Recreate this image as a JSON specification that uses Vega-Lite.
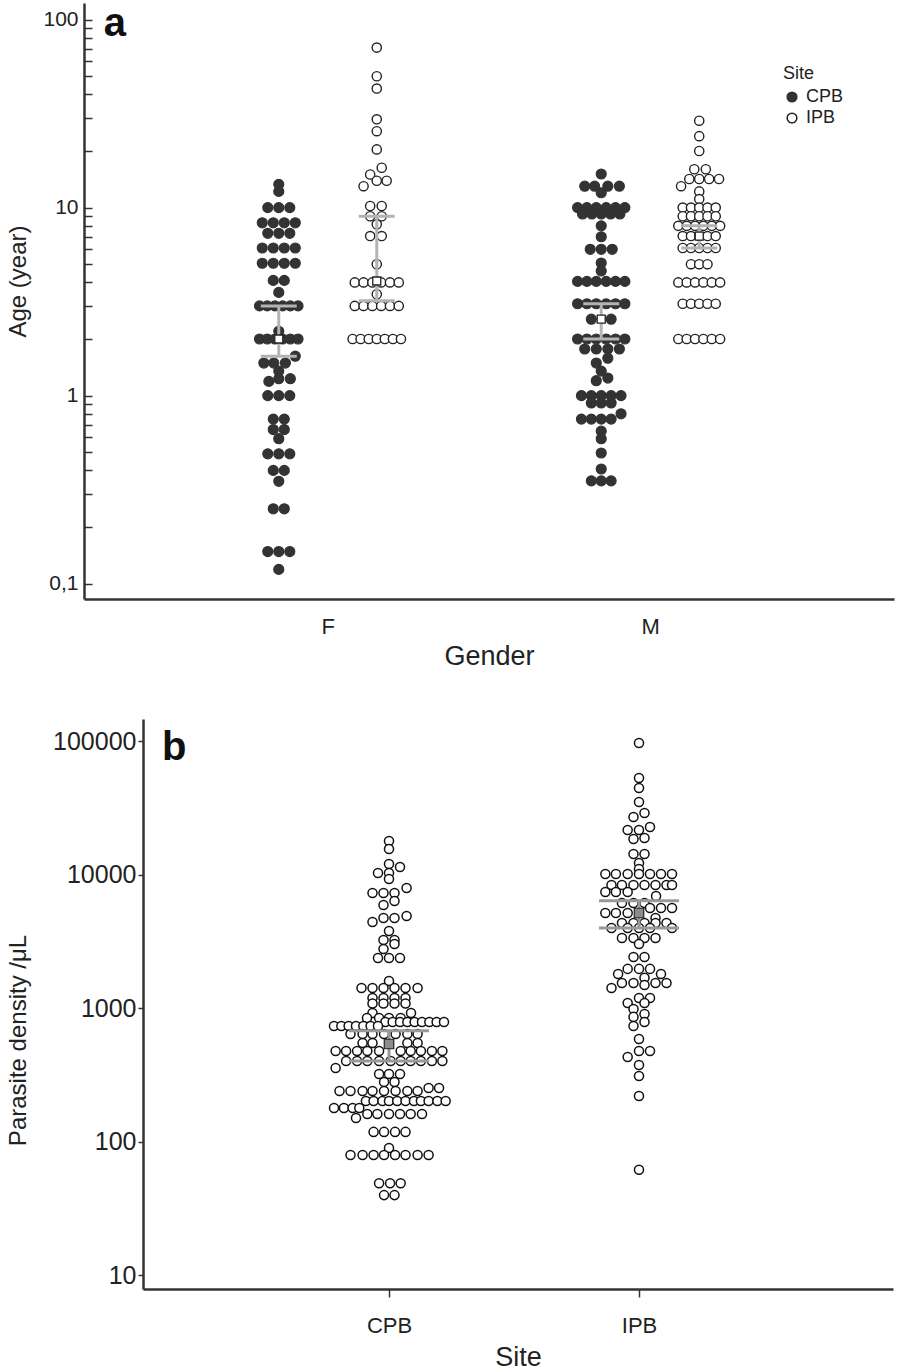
{
"$schema": "https://vega.github.io/schema/vega-lite/v6.json",
"padding": {"left": 6, "top": 3, "right": 3, "bottom": 0},
"background": "white",
"spacing": 50,
"config": {
 "view": {"stroke": null},
 "font": "Liberation Sans",
 "axis": {"labelFont": "Liberation Sans", "titleFont": "Liberation Sans", "titleFontWeight": "normal", "labelColor": "#222", "titleColor": "#222", "domainColor": "#333", "domainWidth": 2.5, "tickColor": "#333", "tickWidth": 1.5, "grid": false},
 "legend": {"labelFont": "Liberation Sans", "titleFont": "Liberation Sans"},
 "text": {"font": "Liberation Sans"}
},
"datasets": {
 "panelTags": [{"tag": "a"}, {"tag": "b"}],
 "ageDots": [
  {"gender":"F","site":"CPB","age":13.3,"slot":0},{"gender":"F","site":"CPB","age":12.2,"slot":0},
  {"gender":"F","site":"CPB","age":10,"slot":-1},{"gender":"F","site":"CPB","age":10,"slot":0},{"gender":"F","site":"CPB","age":10,"slot":1},
  {"gender":"F","site":"CPB","age":8.3,"slot":-1.5},{"gender":"F","site":"CPB","age":8.3,"slot":-0.5},{"gender":"F","site":"CPB","age":8.3,"slot":0.5},{"gender":"F","site":"CPB","age":8.3,"slot":1.5},
  {"gender":"F","site":"CPB","age":7.3,"slot":-1},{"gender":"F","site":"CPB","age":7.3,"slot":0},{"gender":"F","site":"CPB","age":7.3,"slot":1},
  {"gender":"F","site":"CPB","age":6.1,"slot":-1.5},{"gender":"F","site":"CPB","age":6.1,"slot":-0.5},{"gender":"F","site":"CPB","age":6.1,"slot":0.5},{"gender":"F","site":"CPB","age":6.1,"slot":1.5},
  {"gender":"F","site":"CPB","age":5.06,"slot":-1.5},{"gender":"F","site":"CPB","age":5.06,"slot":-0.5},{"gender":"F","site":"CPB","age":5.06,"slot":0.5},{"gender":"F","site":"CPB","age":5.06,"slot":1.5},
  {"gender":"F","site":"CPB","age":4.1,"slot":-0.5},{"gender":"F","site":"CPB","age":4.1,"slot":0.5},
  {"gender":"F","site":"CPB","age":3.54,"slot":0},
  {"gender":"F","site":"CPB","age":3,"slot":-1.75},{"gender":"F","site":"CPB","age":3,"slot":-1.05},{"gender":"F","site":"CPB","age":3,"slot":-0.35},{"gender":"F","site":"CPB","age":3,"slot":0.35},{"gender":"F","site":"CPB","age":3,"slot":1.05},{"gender":"F","site":"CPB","age":3,"slot":1.75},
  {"gender":"F","site":"CPB","age":2.2,"slot":0},
  {"gender":"F","site":"CPB","age":2,"slot":-1.75},{"gender":"F","site":"CPB","age":2,"slot":-1.05},{"gender":"F","site":"CPB","age":2,"slot":-0.35},{"gender":"F","site":"CPB","age":2,"slot":0.35},{"gender":"F","site":"CPB","age":2,"slot":1.05},{"gender":"F","site":"CPB","age":2,"slot":1.75},
  {"gender":"F","site":"CPB","age":1.62,"slot":1.5},
  {"gender":"F","site":"CPB","age":1.49,"slot":-1.36},{"gender":"F","site":"CPB","age":1.49,"slot":-0.45},{"gender":"F","site":"CPB","age":1.49,"slot":0.6},
  {"gender":"F","site":"CPB","age":1.35,"slot":0},{"gender":"F","site":"CPB","age":1.23,"slot":0},{"gender":"F","site":"CPB","age":1.23,"slot":1.05},{"gender":"F","site":"CPB","age":1.19,"slot":-0.9},
  {"gender":"F","site":"CPB","age":1,"slot":-1},{"gender":"F","site":"CPB","age":1,"slot":0},{"gender":"F","site":"CPB","age":1,"slot":1},
  {"gender":"F","site":"CPB","age":0.75,"slot":-0.5},{"gender":"F","site":"CPB","age":0.75,"slot":0.5},
  {"gender":"F","site":"CPB","age":0.66,"slot":-0.5},{"gender":"F","site":"CPB","age":0.66,"slot":0.5},{"gender":"F","site":"CPB","age":0.59,"slot":0},
  {"gender":"F","site":"CPB","age":0.49,"slot":-1},{"gender":"F","site":"CPB","age":0.49,"slot":0},{"gender":"F","site":"CPB","age":0.49,"slot":1},
  {"gender":"F","site":"CPB","age":0.4,"slot":-0.5},{"gender":"F","site":"CPB","age":0.4,"slot":0.5},{"gender":"F","site":"CPB","age":0.35,"slot":0},
  {"gender":"F","site":"CPB","age":0.25,"slot":-0.5},{"gender":"F","site":"CPB","age":0.25,"slot":0.5},
  {"gender":"F","site":"CPB","age":0.148,"slot":-1},{"gender":"F","site":"CPB","age":0.148,"slot":0},{"gender":"F","site":"CPB","age":0.148,"slot":1},
  {"gender":"F","site":"CPB","age":0.119,"slot":0},

  {"gender":"F","site":"IPB","age":71,"slot":0},{"gender":"F","site":"IPB","age":50,"slot":0},{"gender":"F","site":"IPB","age":43,"slot":0},
  {"gender":"F","site":"IPB","age":29.5,"slot":0},{"gender":"F","site":"IPB","age":25.5,"slot":0},{"gender":"F","site":"IPB","age":20.4,"slot":0},
  {"gender":"F","site":"IPB","age":16.3,"slot":0.45},{"gender":"F","site":"IPB","age":15,"slot":-0.6},{"gender":"F","site":"IPB","age":13.9,"slot":0},{"gender":"F","site":"IPB","age":13.9,"slot":0.9},{"gender":"F","site":"IPB","age":13,"slot":-1.2},
  {"gender":"F","site":"IPB","age":10.2,"slot":-0.6},{"gender":"F","site":"IPB","age":10.2,"slot":0.45},{"gender":"F","site":"IPB","age":9,"slot":-0.6},{"gender":"F","site":"IPB","age":9,"slot":0.45},
  {"gender":"F","site":"IPB","age":8.15,"slot":0},{"gender":"F","site":"IPB","age":7.06,"slot":-0.6},{"gender":"F","site":"IPB","age":7.06,"slot":0.45},
  {"gender":"F","site":"IPB","age":5,"slot":0},
  {"gender":"F","site":"IPB","age":4,"slot":-2},{"gender":"F","site":"IPB","age":4,"slot":-1.2},{"gender":"F","site":"IPB","age":4,"slot":-0.4},{"gender":"F","site":"IPB","age":4,"slot":0.4},{"gender":"F","site":"IPB","age":4,"slot":1.2},{"gender":"F","site":"IPB","age":4,"slot":2},
  {"gender":"F","site":"IPB","age":3.46,"slot":0},
  {"gender":"F","site":"IPB","age":3,"slot":-2},{"gender":"F","site":"IPB","age":3,"slot":-1.2},{"gender":"F","site":"IPB","age":3,"slot":-0.4},{"gender":"F","site":"IPB","age":3,"slot":0.4},{"gender":"F","site":"IPB","age":3,"slot":1.2},{"gender":"F","site":"IPB","age":3,"slot":2},
  {"gender":"F","site":"IPB","age":2,"slot":-2.2},{"gender":"F","site":"IPB","age":2,"slot":-1.47},{"gender":"F","site":"IPB","age":2,"slot":-0.73},{"gender":"F","site":"IPB","age":2,"slot":0},{"gender":"F","site":"IPB","age":2,"slot":0.73},{"gender":"F","site":"IPB","age":2,"slot":1.47},{"gender":"F","site":"IPB","age":2,"slot":2.2},

  {"gender":"M","site":"CPB","age":15.1,"slot":0},
  {"gender":"M","site":"CPB","age":13,"slot":-1.5},{"gender":"M","site":"CPB","age":13,"slot":-0.6},{"gender":"M","site":"CPB","age":13,"slot":0.6},{"gender":"M","site":"CPB","age":13,"slot":1.65},{"gender":"M","site":"CPB","age":12,"slot":0},
  {"gender":"M","site":"CPB","age":10,"slot":-2.15},{"gender":"M","site":"CPB","age":10,"slot":-1.3},{"gender":"M","site":"CPB","age":10,"slot":-0.45},{"gender":"M","site":"CPB","age":10,"slot":0.45},{"gender":"M","site":"CPB","age":10,"slot":1.3},{"gender":"M","site":"CPB","age":10,"slot":2.15},
  {"gender":"M","site":"CPB","age":9.25,"slot":-1.7},{"gender":"M","site":"CPB","age":9.25,"slot":-0.85},{"gender":"M","site":"CPB","age":9.25,"slot":0},{"gender":"M","site":"CPB","age":9.25,"slot":0.85},{"gender":"M","site":"CPB","age":9.25,"slot":1.7},
  {"gender":"M","site":"CPB","age":8,"slot":0},{"gender":"M","site":"CPB","age":7,"slot":0},
  {"gender":"M","site":"CPB","age":6,"slot":-1},{"gender":"M","site":"CPB","age":6,"slot":0},{"gender":"M","site":"CPB","age":6,"slot":1},
  {"gender":"M","site":"CPB","age":5.07,"slot":0},{"gender":"M","site":"CPB","age":4.6,"slot":0},
  {"gender":"M","site":"CPB","age":4.05,"slot":-2.15},{"gender":"M","site":"CPB","age":4.05,"slot":-1.3},{"gender":"M","site":"CPB","age":4.05,"slot":-0.45},{"gender":"M","site":"CPB","age":4.05,"slot":0.45},{"gender":"M","site":"CPB","age":4.05,"slot":1.3},{"gender":"M","site":"CPB","age":4.05,"slot":2.15},
  {"gender":"M","site":"CPB","age":3.08,"slot":-2.15},{"gender":"M","site":"CPB","age":3.08,"slot":-1.3},{"gender":"M","site":"CPB","age":3.08,"slot":-0.45},{"gender":"M","site":"CPB","age":3.08,"slot":0.45},{"gender":"M","site":"CPB","age":3.08,"slot":1.3},{"gender":"M","site":"CPB","age":3.08,"slot":2.15},
  {"gender":"M","site":"CPB","age":2.55,"slot":-0.9},{"gender":"M","site":"CPB","age":2.55,"slot":0.9},
  {"gender":"M","site":"CPB","age":2,"slot":-2.15},{"gender":"M","site":"CPB","age":2,"slot":-1.3},{"gender":"M","site":"CPB","age":2,"slot":-0.45},{"gender":"M","site":"CPB","age":2,"slot":0.45},{"gender":"M","site":"CPB","age":2,"slot":1.3},{"gender":"M","site":"CPB","age":2,"slot":2.15},
  {"gender":"M","site":"CPB","age":1.77,"slot":-1.5},{"gender":"M","site":"CPB","age":1.77,"slot":-0.45},{"gender":"M","site":"CPB","age":1.77,"slot":0.6},{"gender":"M","site":"CPB","age":1.77,"slot":1.65},
  {"gender":"M","site":"CPB","age":1.58,"slot":0.6},{"gender":"M","site":"CPB","age":1.49,"slot":-0.45},
  {"gender":"M","site":"CPB","age":1.35,"slot":0},{"gender":"M","site":"CPB","age":1.24,"slot":0.6},{"gender":"M","site":"CPB","age":1.2,"slot":-0.45},
  {"gender":"M","site":"CPB","age":1,"slot":-1.8},{"gender":"M","site":"CPB","age":1,"slot":-0.9},{"gender":"M","site":"CPB","age":1,"slot":0},{"gender":"M","site":"CPB","age":1,"slot":0.9},{"gender":"M","site":"CPB","age":1,"slot":1.8},
  {"gender":"M","site":"CPB","age":0.914,"slot":-0.9},{"gender":"M","site":"CPB","age":0.914,"slot":0},{"gender":"M","site":"CPB","age":0.914,"slot":0.9},
  {"gender":"M","site":"CPB","age":0.8,"slot":1.8},
  {"gender":"M","site":"CPB","age":0.75,"slot":-1.8},{"gender":"M","site":"CPB","age":0.75,"slot":-0.9},{"gender":"M","site":"CPB","age":0.75,"slot":0},{"gender":"M","site":"CPB","age":0.75,"slot":0.9},
  {"gender":"M","site":"CPB","age":0.647,"slot":0},{"gender":"M","site":"CPB","age":0.59,"slot":0},{"gender":"M","site":"CPB","age":0.495,"slot":0},{"gender":"M","site":"CPB","age":0.407,"slot":0},
  {"gender":"M","site":"CPB","age":0.352,"slot":-0.9},{"gender":"M","site":"CPB","age":0.352,"slot":0},{"gender":"M","site":"CPB","age":0.352,"slot":0.9},

  {"gender":"M","site":"IPB","age":29,"slot":0},{"gender":"M","site":"IPB","age":24,"slot":0},{"gender":"M","site":"IPB","age":20,"slot":0},
  {"gender":"M","site":"IPB","age":16,"slot":-0.45},{"gender":"M","site":"IPB","age":16,"slot":0.6},
  {"gender":"M","site":"IPB","age":14.2,"slot":-0.9},{"gender":"M","site":"IPB","age":14.2,"slot":0},{"gender":"M","site":"IPB","age":14.2,"slot":0.9},{"gender":"M","site":"IPB","age":14.2,"slot":1.8},{"gender":"M","site":"IPB","age":13,"slot":-1.65},
  {"gender":"M","site":"IPB","age":12.2,"slot":0},{"gender":"M","site":"IPB","age":11.1,"slot":0},
  {"gender":"M","site":"IPB","age":10,"slot":-1.5},{"gender":"M","site":"IPB","age":10,"slot":-0.75},{"gender":"M","site":"IPB","age":10,"slot":0},{"gender":"M","site":"IPB","age":10,"slot":0.75},{"gender":"M","site":"IPB","age":10,"slot":1.5},
  {"gender":"M","site":"IPB","age":9,"slot":-1.5},{"gender":"M","site":"IPB","age":9,"slot":-0.75},{"gender":"M","site":"IPB","age":9,"slot":0},{"gender":"M","site":"IPB","age":9,"slot":0.75},{"gender":"M","site":"IPB","age":9,"slot":1.5},
  {"gender":"M","site":"IPB","age":8,"slot":-1.9},{"gender":"M","site":"IPB","age":8,"slot":-1.14},{"gender":"M","site":"IPB","age":8,"slot":-0.38},{"gender":"M","site":"IPB","age":8,"slot":0.38},{"gender":"M","site":"IPB","age":8,"slot":1.14},{"gender":"M","site":"IPB","age":8,"slot":1.9},
  {"gender":"M","site":"IPB","age":7.06,"slot":-1.5},{"gender":"M","site":"IPB","age":7.06,"slot":-0.75},{"gender":"M","site":"IPB","age":7.06,"slot":0},{"gender":"M","site":"IPB","age":7.06,"slot":0.75},{"gender":"M","site":"IPB","age":7.06,"slot":1.5},
  {"gender":"M","site":"IPB","age":6.1,"slot":-1.5},{"gender":"M","site":"IPB","age":6.1,"slot":-0.75},{"gender":"M","site":"IPB","age":6.1,"slot":0},{"gender":"M","site":"IPB","age":6.1,"slot":0.75},{"gender":"M","site":"IPB","age":6.1,"slot":1.5},
  {"gender":"M","site":"IPB","age":5,"slot":-0.75},{"gender":"M","site":"IPB","age":5,"slot":0},{"gender":"M","site":"IPB","age":5,"slot":0.75},
  {"gender":"M","site":"IPB","age":4,"slot":-1.9},{"gender":"M","site":"IPB","age":4,"slot":-1.14},{"gender":"M","site":"IPB","age":4,"slot":-0.38},{"gender":"M","site":"IPB","age":4,"slot":0.38},{"gender":"M","site":"IPB","age":4,"slot":1.14},{"gender":"M","site":"IPB","age":4,"slot":1.9},
  {"gender":"M","site":"IPB","age":3.08,"slot":-1.5},{"gender":"M","site":"IPB","age":3.08,"slot":-0.75},{"gender":"M","site":"IPB","age":3.08,"slot":0},{"gender":"M","site":"IPB","age":3.08,"slot":0.75},{"gender":"M","site":"IPB","age":3.08,"slot":1.5},
  {"gender":"M","site":"IPB","age":2,"slot":-1.9},{"gender":"M","site":"IPB","age":2,"slot":-1.14},{"gender":"M","site":"IPB","age":2,"slot":-0.38},{"gender":"M","site":"IPB","age":2,"slot":0.38},{"gender":"M","site":"IPB","age":2,"slot":1.14},{"gender":"M","site":"IPB","age":2,"slot":1.9}
 ],
 "ageStats": [
  {"gender":"F","site":"CPB","mean":2.0,"lo":1.62,"hi":3.0},
  {"gender":"F","site":"IPB","mean":4.07,"lo":3.2,"hi":9.0},
  {"gender":"M","site":"CPB","mean":2.55,"lo":2.0,"hi":3.08},
  {"gender":"M","site":"IPB","mean":7.06,"lo":6.1,"hi":8.0}
 ],
 "densDots": [
  {"site":"CPB","density":17990,"slot":0},{"site":"CPB","density":15670,"slot":0},{"site":"CPB","density":12070,"slot":0},{"site":"CPB","density":11480,"slot":1},
  {"site":"CPB","density":10350,"slot":-1},{"site":"CPB","density":10350,"slot":0},{"site":"CPB","density":9330,"slot":0},
  {"site":"CPB","density":8000,"slot":1.6},{"site":"CPB","density":7330,"slot":-1.5},{"site":"CPB","density":7330,"slot":-0.5},{"site":"CPB","density":7330,"slot":0.5},
  {"site":"CPB","density":6380,"slot":0.5},{"site":"CPB","density":5960,"slot":-0.5},
  {"site":"CPB","density":4930,"slot":1.6},{"site":"CPB","density":4760,"slot":-0.5},{"site":"CPB","density":4760,"slot":0.5},{"site":"CPB","density":4450,"slot":-1.5},
  {"site":"CPB","density":3810,"slot":0},{"site":"CPB","density":3260,"slot":-0.5},{"site":"CPB","density":3260,"slot":0.5},{"site":"CPB","density":3040,"slot":0.5},{"site":"CPB","density":2790,"slot":-0.5},
  {"site":"CPB","density":2390,"slot":-1},{"site":"CPB","density":2390,"slot":0},{"site":"CPB","density":2390,"slot":1},
  {"site":"CPB","density":1607,"slot":0},
  {"site":"CPB","density":1425,"slot":-2.5},{"site":"CPB","density":1425,"slot":-1.5},{"site":"CPB","density":1425,"slot":-0.5},{"site":"CPB","density":1425,"slot":0.5},{"site":"CPB","density":1425,"slot":1.5},{"site":"CPB","density":1425,"slot":2.6},
  {"site":"CPB","density":1200,"slot":-1.5},{"site":"CPB","density":1200,"slot":-0.5},{"site":"CPB","density":1200,"slot":0.5},{"site":"CPB","density":1200,"slot":1.5},
  {"site":"CPB","density":1090,"slot":-1.5},{"site":"CPB","density":1090,"slot":-0.5},{"site":"CPB","density":1090,"slot":0.5},{"site":"CPB","density":1090,"slot":1.5},
  {"site":"CPB","density":925,"slot":-1.5},{"site":"CPB","density":925,"slot":2},
  {"site":"CPB","density":849,"slot":-2},{"site":"CPB","density":849,"slot":-0.9},{"site":"CPB","density":849,"slot":0},{"site":"CPB","density":849,"slot":1.06},
  {"site":"CPB","density":793,"slot":-0.33},{"site":"CPB","density":793,"slot":0.33},{"site":"CPB","density":793,"slot":1},{"site":"CPB","density":793,"slot":1.67},{"site":"CPB","density":793,"slot":2.33},{"site":"CPB","density":793,"slot":3},{"site":"CPB","density":793,"slot":3.67},{"site":"CPB","density":793,"slot":4.33},{"site":"CPB","density":793,"slot":5},
  {"site":"CPB","density":740,"slot":-5},{"site":"CPB","density":740,"slot":-4.33},{"site":"CPB","density":740,"slot":-3.67},{"site":"CPB","density":740,"slot":-3},{"site":"CPB","density":740,"slot":-2.33},{"site":"CPB","density":740,"slot":-1.67},{"site":"CPB","density":740,"slot":-1},
  {"site":"CPB","density":644,"slot":-3.5},{"site":"CPB","density":644,"slot":-2.4},{"site":"CPB","density":644,"slot":-1.5},{"site":"CPB","density":644,"slot":-0.45},{"site":"CPB","density":644,"slot":0.6},{"site":"CPB","density":644,"slot":1.67},{"site":"CPB","density":644,"slot":2.6},
  {"site":"CPB","density":552,"slot":-2.4},{"site":"CPB","density":552,"slot":-1.5},{"site":"CPB","density":552,"slot":1.67},{"site":"CPB","density":552,"slot":2.6},
  {"site":"CPB","density":481,"slot":-4.85},{"site":"CPB","density":481,"slot":-3.9},{"site":"CPB","density":481,"slot":-2.9},{"site":"CPB","density":481,"slot":-1.97},{"site":"CPB","density":481,"slot":-0.9},{"site":"CPB","density":481,"slot":1.06},{"site":"CPB","density":481,"slot":1.97},{"site":"CPB","density":481,"slot":2.9},{"site":"CPB","density":481,"slot":3.9},{"site":"CPB","density":481,"slot":4.85},
  {"site":"CPB","density":404,"slot":-3.9},{"site":"CPB","density":404,"slot":-2.9},{"site":"CPB","density":404,"slot":-1.97},{"site":"CPB","density":404,"slot":-0.9},{"site":"CPB","density":404,"slot":0.15},{"site":"CPB","density":404,"slot":1.06},{"site":"CPB","density":404,"slot":1.97},{"site":"CPB","density":404,"slot":2.9},{"site":"CPB","density":404,"slot":3.9},{"site":"CPB","density":404,"slot":4.85},
  {"site":"CPB","density":358,"slot":-4.85},
  {"site":"CPB","density":323,"slot":-0.9},{"site":"CPB","density":323,"slot":0},{"site":"CPB","density":323,"slot":1},
  {"site":"CPB","density":281,"slot":-0.45},{"site":"CPB","density":281,"slot":0.5},
  {"site":"CPB","density":254,"slot":3.6},{"site":"CPB","density":254,"slot":4.55},
  {"site":"CPB","density":241,"slot":-4.5},{"site":"CPB","density":241,"slot":-3.5},{"site":"CPB","density":241,"slot":-2.4},{"site":"CPB","density":241,"slot":-1.5},{"site":"CPB","density":241,"slot":-0.45},{"site":"CPB","density":241,"slot":0.6},{"site":"CPB","density":241,"slot":1.67},{"site":"CPB","density":241,"slot":2.6},
  {"site":"CPB","density":203,"slot":-2.1},{"site":"CPB","density":203,"slot":-1.4},{"site":"CPB","density":203,"slot":-0.6},{"site":"CPB","density":203,"slot":0},{"site":"CPB","density":203,"slot":0.75},{"site":"CPB","density":203,"slot":1.5},{"site":"CPB","density":203,"slot":2.27},{"site":"CPB","density":203,"slot":2.9},{"site":"CPB","density":203,"slot":3.6},{"site":"CPB","density":203,"slot":4.4},{"site":"CPB","density":203,"slot":5.15},
  {"site":"CPB","density":180,"slot":-5},{"site":"CPB","density":180,"slot":-4.1},{"site":"CPB","density":180,"slot":-3.3},{"site":"CPB","density":180,"slot":-2.7},
  {"site":"CPB","density":162,"slot":-1.97},{"site":"CPB","density":162,"slot":-1.06},{"site":"CPB","density":162,"slot":0},{"site":"CPB","density":162,"slot":1},{"site":"CPB","density":162,"slot":1.97},{"site":"CPB","density":162,"slot":3},
  {"site":"CPB","density":151,"slot":-3},
  {"site":"CPB","density":119,"slot":-1.4},{"site":"CPB","density":119,"slot":-0.45},{"site":"CPB","density":119,"slot":0.55},{"site":"CPB","density":119,"slot":1.5},
  {"site":"CPB","density":90,"slot":0},
  {"site":"CPB","density":80,"slot":-3.5},{"site":"CPB","density":80,"slot":-2.4},{"site":"CPB","density":80,"slot":-1.4},{"site":"CPB","density":80,"slot":-0.45},{"site":"CPB","density":80,"slot":0.55},{"site":"CPB","density":80,"slot":1.5},{"site":"CPB","density":80,"slot":2.6},{"site":"CPB","density":80,"slot":3.6},
  {"site":"CPB","density":49,"slot":-0.9},{"site":"CPB","density":49,"slot":0.1},{"site":"CPB","density":49,"slot":1.06},
  {"site":"CPB","density":40,"slot":-0.45},{"site":"CPB","density":40,"slot":0.5},

  {"site":"IPB","density":97500,"slot":0},{"site":"IPB","density":53300,"slot":0},{"site":"IPB","density":44900,"slot":0},{"site":"IPB","density":35200,"slot":0},
  {"site":"IPB","density":29100,"slot":0.5},{"site":"IPB","density":27200,"slot":-0.5},{"site":"IPB","density":22900,"slot":1},{"site":"IPB","density":21700,"slot":-1.03},{"site":"IPB","density":21700,"slot":0},
  {"site":"IPB","density":18900,"slot":0.5},{"site":"IPB","density":18600,"slot":-0.5},{"site":"IPB","density":14350,"slot":-0.5},{"site":"IPB","density":14350,"slot":0.5},{"site":"IPB","density":12300,"slot":0},{"site":"IPB","density":11100,"slot":0},
  {"site":"IPB","density":10170,"slot":-3.06},{"site":"IPB","density":10170,"slot":-2.1},{"site":"IPB","density":10170,"slot":-1.03},{"site":"IPB","density":10170,"slot":0},{"site":"IPB","density":10170,"slot":1},{"site":"IPB","density":10170,"slot":2},{"site":"IPB","density":10170,"slot":3},
  {"site":"IPB","density":8410,"slot":-2.5},{"site":"IPB","density":8410,"slot":-1.55},{"site":"IPB","density":8410,"slot":-0.5},{"site":"IPB","density":8410,"slot":0.5},{"site":"IPB","density":8410,"slot":1.5},{"site":"IPB","density":8410,"slot":2.5},{"site":"IPB","density":8410,"slot":3},
  {"site":"IPB","density":7460,"slot":-3.06},{"site":"IPB","density":7460,"slot":-2.1},{"site":"IPB","density":7460,"slot":-1.03},
  {"site":"IPB","density":6970,"slot":1.55},
  {"site":"IPB","density":6170,"slot":-1.55},{"site":"IPB","density":6170,"slot":-0.5},{"site":"IPB","density":6170,"slot":0.5},
  {"site":"IPB","density":5660,"slot":1},{"site":"IPB","density":5660,"slot":2},{"site":"IPB","density":5660,"slot":3},
  {"site":"IPB","density":5190,"slot":-3.06},{"site":"IPB","density":5190,"slot":-2.1},{"site":"IPB","density":5190,"slot":-1.03},
  {"site":"IPB","density":4760,"slot":1.5},
  {"site":"IPB","density":4370,"slot":-1.55},{"site":"IPB","density":4370,"slot":-0.5},{"site":"IPB","density":4370,"slot":0.5},{"site":"IPB","density":4370,"slot":1.5},{"site":"IPB","density":4370,"slot":2.5},
  {"site":"IPB","density":4010,"slot":-2.5},{"site":"IPB","density":4010,"slot":-1.03},{"site":"IPB","density":4010,"slot":0},{"site":"IPB","density":4010,"slot":1},{"site":"IPB","density":4010,"slot":3},
  {"site":"IPB","density":3370,"slot":-1.55},{"site":"IPB","density":3370,"slot":-0.5},{"site":"IPB","density":3370,"slot":0.5},{"site":"IPB","density":3370,"slot":1.5},
  {"site":"IPB","density":3040,"slot":0},
  {"site":"IPB","density":2430,"slot":-0.5},{"site":"IPB","density":2430,"slot":0.5},
  {"site":"IPB","density":1980,"slot":-1.03},{"site":"IPB","density":1980,"slot":0},{"site":"IPB","density":1980,"slot":1},
  {"site":"IPB","density":1810,"slot":-1.9},{"site":"IPB","density":1810,"slot":2},{"site":"IPB","density":1700,"slot":0.5},
  {"site":"IPB","density":1550,"slot":-1.55},{"site":"IPB","density":1550,"slot":-0.5},{"site":"IPB","density":1550,"slot":1.5},{"site":"IPB","density":1550,"slot":2.5},
  {"site":"IPB","density":1500,"slot":0.5},{"site":"IPB","density":1425,"slot":-2.5},
  {"site":"IPB","density":1200,"slot":0},{"site":"IPB","density":1200,"slot":1},{"site":"IPB","density":1100,"slot":-1.03},{"site":"IPB","density":1100,"slot":0.5},
  {"site":"IPB","density":990,"slot":-0.5},{"site":"IPB","density":910,"slot":0.5},{"site":"IPB","density":865,"slot":-0.5},{"site":"IPB","density":793,"slot":0.5},{"site":"IPB","density":740,"slot":-0.5},
  {"site":"IPB","density":591,"slot":0},{"site":"IPB","density":481,"slot":0},{"site":"IPB","density":481,"slot":1},{"site":"IPB","density":433,"slot":-1.03},
  {"site":"IPB","density":377,"slot":0},{"site":"IPB","density":312,"slot":0},{"site":"IPB","density":221,"slot":0},{"site":"IPB","density":62,"slot":0}
 ],
 "densStats": [
  {"site":"CPB","mean":542,"lo":404,"hi":680},
  {"site":"IPB","mean":5190,"lo":4010,"hi":6420}
 ]
},
"vconcat": [
 {
  "width": 751, "height": 596,
  "layer": [
   {
    "layer": [
     {"data": {"name": "ageDots"},
      "transform": [{"filter": "datum.site === 'CPB'"}],
      "mark": {"type": "point", "shape": "circle", "size": 100, "strokeWidth": 1.2, "opacity": 1},
      "encoding": {
       "x": {"field": "gender", "type": "nominal", "scale": {"type": "point", "domain": ["F", "M"], "range": [-59, 751], "padding": 0.756}, "axis": {"title": "Gender", "labelAngle": 0, "ticks": false, "labelPadding": 17, "titlePadding": 6, "labelFontSize": 22, "titleFontSize": 27}},
       "xOffset": {"field": "slot", "type": "quantitative", "scale": {"domain": [-5, 5], "range": [-104, 6]}},
       "y": {"field": "age", "type": "quantitative", "title": "Age (year)", "scale": {"type": "log", "domain": [0.0828, 122.6], "nice": false, "zero": false},
             "axis": {"offset": 59, "values": [0.1,0.2,0.3,0.4,0.5,0.6,0.7,0.8,0.9,1,2,3,4,5,6,7,8,9,10,20,30,40,50,60,70,80,90,100], "labelExpr": "datum.value === 100 ? '100' : datum.value === 10 ? '10' : datum.value === 1 ? '1' : datum.value === 0.1 ? '0,1' : ''", "tickSize": -8, "labelPadding": 14, "labelOverlap": false, "labelFontSize": 21, "titleFontSize": 24, "titlePadding": 12, "minExtent": 42, "maxExtent": 42, "titleY": 278}},
       "fill": {"field": "site", "type": "nominal", "scale": {"domain": ["CPB", "IPB"], "range": ["#333333", "#ffffff"]}, "legend": {"title": "Site", "orient": "none", "legendX": 640, "legendY": 62, "padding": 0, "titleFontSize": 18, "labelFontSize": 18, "titleFontWeight": "normal", "symbolSize": 95, "symbolStrokeWidth": 1.5, "rowPadding": 3, "titlePadding": 5, "labelColor": "#222", "titleColor": "#222", "labelOffset": 5}},
       "stroke": {"field": "site", "type": "nominal", "scale": {"domain": ["CPB", "IPB"], "range": ["#333333", "#222222"]}, "legend": {"title": "Site", "orient": "none", "legendX": 640, "legendY": 62, "padding": 0, "titleFontSize": 18, "labelFontSize": 18, "titleFontWeight": "normal", "symbolSize": 95, "symbolStrokeWidth": 1.5, "rowPadding": 3, "titlePadding": 5, "labelColor": "#222", "titleColor": "#222", "labelOffset": 5}}
      }},
     {"data": {"name": "ageStats"},
      "transform": [{"filter": "datum.site === 'CPB'"}],
      "mark": {"type": "rule", "color": "#b3b3b3", "strokeWidth": 3},
      "encoding": {"x": {"field": "gender", "type": "nominal"}, "xOffset": {"datum": 0, "type": "quantitative", "scale": {"domain": [-5, 5], "range": [-104, 6]}}, "y": {"field": "lo", "type": "quantitative", "title": "Age (year)"}, "y2": {"field": "hi"}}},
     {"data": {"name": "ageStats"},
      "transform": [{"filter": "datum.site === 'CPB'"}],
      "mark": {"type": "tick", "orient": "horizontal", "color": "#b3b3b3", "thickness": 3, "size": 36, "opacity": 1},
      "encoding": {"x": {"field": "gender", "type": "nominal"}, "xOffset": {"datum": 0, "type": "quantitative", "scale": {"domain": [-5, 5], "range": [-104, 6]}}, "y": {"field": "lo", "type": "quantitative", "title": "Age (year)"}}},
     {"data": {"name": "ageStats"},
      "transform": [{"filter": "datum.site === 'CPB'"}],
      "mark": {"type": "tick", "orient": "horizontal", "color": "#b3b3b3", "thickness": 3, "size": 36, "opacity": 1},
      "encoding": {"x": {"field": "gender", "type": "nominal"}, "xOffset": {"datum": 0, "type": "quantitative", "scale": {"domain": [-5, 5], "range": [-104, 6]}}, "y": {"field": "hi", "type": "quantitative", "title": "Age (year)"}}},
     {"data": {"name": "ageStats"},
      "transform": [{"filter": "datum.site === 'CPB'"}],
      "mark": {"type": "point", "shape": "square", "size": 64, "filled": true, "fill": "white", "stroke": "#222", "strokeWidth": 1.3, "opacity": 1},
      "encoding": {"x": {"field": "gender", "type": "nominal"}, "xOffset": {"datum": 0, "type": "quantitative", "scale": {"domain": [-5, 5], "range": [-104, 6]}}, "y": {"field": "mean", "type": "quantitative", "title": "Age (year)"}}}
    ]
   },
   {
    "layer": [
     {"data": {"name": "ageDots"},
      "transform": [{"filter": "datum.site === 'IPB'"}],
      "mark": {"type": "point", "shape": "circle", "size": 85, "strokeWidth": 1.4, "opacity": 1},
      "encoding": {
       "x": {"field": "gender", "type": "nominal"},
       "xOffset": {"field": "slot", "type": "quantitative", "scale": {"domain": [-5, 5], "range": [-6, 104]}},
       "y": {"field": "age", "type": "quantitative", "title": "Age (year)"},
       "fill": {"field": "site", "type": "nominal"},
       "stroke": {"field": "site", "type": "nominal"}
      }},
     {"data": {"name": "ageStats"},
      "transform": [{"filter": "datum.site === 'IPB'"}],
      "mark": {"type": "rule", "color": "#b3b3b3", "strokeWidth": 3},
      "encoding": {"x": {"field": "gender", "type": "nominal"}, "xOffset": {"datum": 0, "type": "quantitative", "scale": {"domain": [-5, 5], "range": [-6, 104]}}, "y": {"field": "lo", "type": "quantitative", "title": "Age (year)"}, "y2": {"field": "hi"}}},
     {"data": {"name": "ageStats"},
      "transform": [{"filter": "datum.site === 'IPB'"}],
      "mark": {"type": "tick", "orient": "horizontal", "color": "#b3b3b3", "thickness": 3, "size": 36, "opacity": 1},
      "encoding": {"x": {"field": "gender", "type": "nominal"}, "xOffset": {"datum": 0, "type": "quantitative", "scale": {"domain": [-5, 5], "range": [-6, 104]}}, "y": {"field": "lo", "type": "quantitative", "title": "Age (year)"}}},
     {"data": {"name": "ageStats"},
      "transform": [{"filter": "datum.site === 'IPB'"}],
      "mark": {"type": "tick", "orient": "horizontal", "color": "#b3b3b3", "thickness": 3, "size": 36, "opacity": 1},
      "encoding": {"x": {"field": "gender", "type": "nominal"}, "xOffset": {"datum": 0, "type": "quantitative", "scale": {"domain": [-5, 5], "range": [-6, 104]}}, "y": {"field": "hi", "type": "quantitative", "title": "Age (year)"}}},
     {"data": {"name": "ageStats"},
      "transform": [{"filter": "datum.site === 'IPB'"}],
      "mark": {"type": "point", "shape": "square", "size": 64, "filled": true, "fill": "white", "stroke": "#222", "strokeWidth": 1.3, "opacity": 1},
      "encoding": {"x": {"field": "gender", "type": "nominal"}, "xOffset": {"datum": 0, "type": "quantitative", "scale": {"domain": [-5, 5], "range": [-6, 104]}}, "y": {"field": "mean", "type": "quantitative", "title": "Age (year)"}}}
    ]
   },
   {"data": {"name": "panelTags"},
    "transform": [{"filter": "datum.tag === 'a'"}],
    "mark": {"type": "text", "fontSize": 40, "fontWeight": "bold", "color": "#111", "align": "left", "baseline": "alphabetic", "dx": -224, "dy": 16},
    "encoding": {"text": {"field": "tag"}, "x": {"datum": "F", "type": "nominal"}, "y": {"datum": 100, "type": "quantitative", "title": "Age (year)"}}}
  ],
  "resolve": {"scale": {"xOffset": "independent"}}
 },
 {
  "width": 750, "height": 570,
  "layer": [
   {"data": {"name": "densDots"},
    "mark": {"type": "point", "shape": "circle", "size": 82, "strokeWidth": 1.5, "stroke": "#111", "fill": "white", "filled": false, "opacity": 1, "fillOpacity": 1},
    "encoding": {
     "x": {"field": "site", "type": "nominal", "scale": {"type": "point", "domain": ["CPB", "IPB"], "padding": 1.076, "align": 0.492}, "axis": {"title": "Site", "labelAngle": 0, "tickSize": 8, "labelPadding": 18, "titlePadding": 8, "labelFontSize": 22, "titleFontSize": 27}},
     "xOffset": {"field": "slot", "type": "quantitative", "scale": {"domain": [-6, 6], "range": [-66, 66]}},
     "y": {"field": "density", "type": "quantitative", "title": "Parasite density /μL", "scale": {"type": "log", "domain": [7.92, 147400], "nice": false, "zero": false},
           "axis": {"values": [10, 100, 1000, 10000, 100000], "format": "d", "tickSize": 5, "labelPadding": 2, "labelOverlap": false, "labelFontSize": 25, "titleFontSize": 24, "titlePadding": 22, "minExtent": 91, "maxExtent": 91, "titleY": 321}}
    }},
   {"data": {"name": "densStats"},
    "mark": {"type": "rule", "color": "#999999", "strokeWidth": 3},
    "encoding": {"x": {"field": "site", "type": "nominal"}, "xOffset": {"datum": 0, "type": "quantitative", "scale": {"domain": [-6, 6], "range": [-66, 66]}}, "y": {"field": "lo", "type": "quantitative", "title": "Parasite density /μL"}, "y2": {"field": "hi"}}},
   {"data": {"name": "densStats"},
    "mark": {"type": "tick", "orient": "horizontal", "color": "#999999", "thickness": 3, "size": 80, "opacity": 1},
    "encoding": {"x": {"field": "site", "type": "nominal"}, "xOffset": {"datum": 0, "type": "quantitative", "scale": {"domain": [-6, 6], "range": [-66, 66]}}, "y": {"field": "lo", "type": "quantitative", "title": "Parasite density /μL"}}},
   {"data": {"name": "densStats"},
    "mark": {"type": "tick", "orient": "horizontal", "color": "#999999", "thickness": 3, "size": 80, "opacity": 1},
    "encoding": {"x": {"field": "site", "type": "nominal"}, "xOffset": {"datum": 0, "type": "quantitative", "scale": {"domain": [-6, 6], "range": [-66, 66]}}, "y": {"field": "hi", "type": "quantitative", "title": "Parasite density /μL"}}},
   {"data": {"name": "densStats"},
    "mark": {"type": "point", "shape": "square", "size": 90, "filled": true, "fill": "#8c8c8c", "stroke": "#222", "strokeWidth": 1.2, "opacity": 1},
    "encoding": {"x": {"field": "site", "type": "nominal"}, "xOffset": {"datum": 0, "type": "quantitative", "scale": {"domain": [-6, 6], "range": [-66, 66]}}, "y": {"field": "mean", "type": "quantitative", "title": "Parasite density /μL"}}},
   {"data": {"name": "panelTags"},
    "transform": [{"filter": "datum.tag === 'b'"}],
    "mark": {"type": "text", "fontSize": 40, "fontWeight": "bold", "color": "#111", "align": "left", "baseline": "alphabetic", "dx": -227, "dy": 19},
    "encoding": {"text": {"field": "tag"}, "x": {"datum": "CPB", "type": "nominal"}, "y": {"datum": 100000, "type": "quantitative", "title": "Parasite density /μL"}}}
  ]
 }
]
}
